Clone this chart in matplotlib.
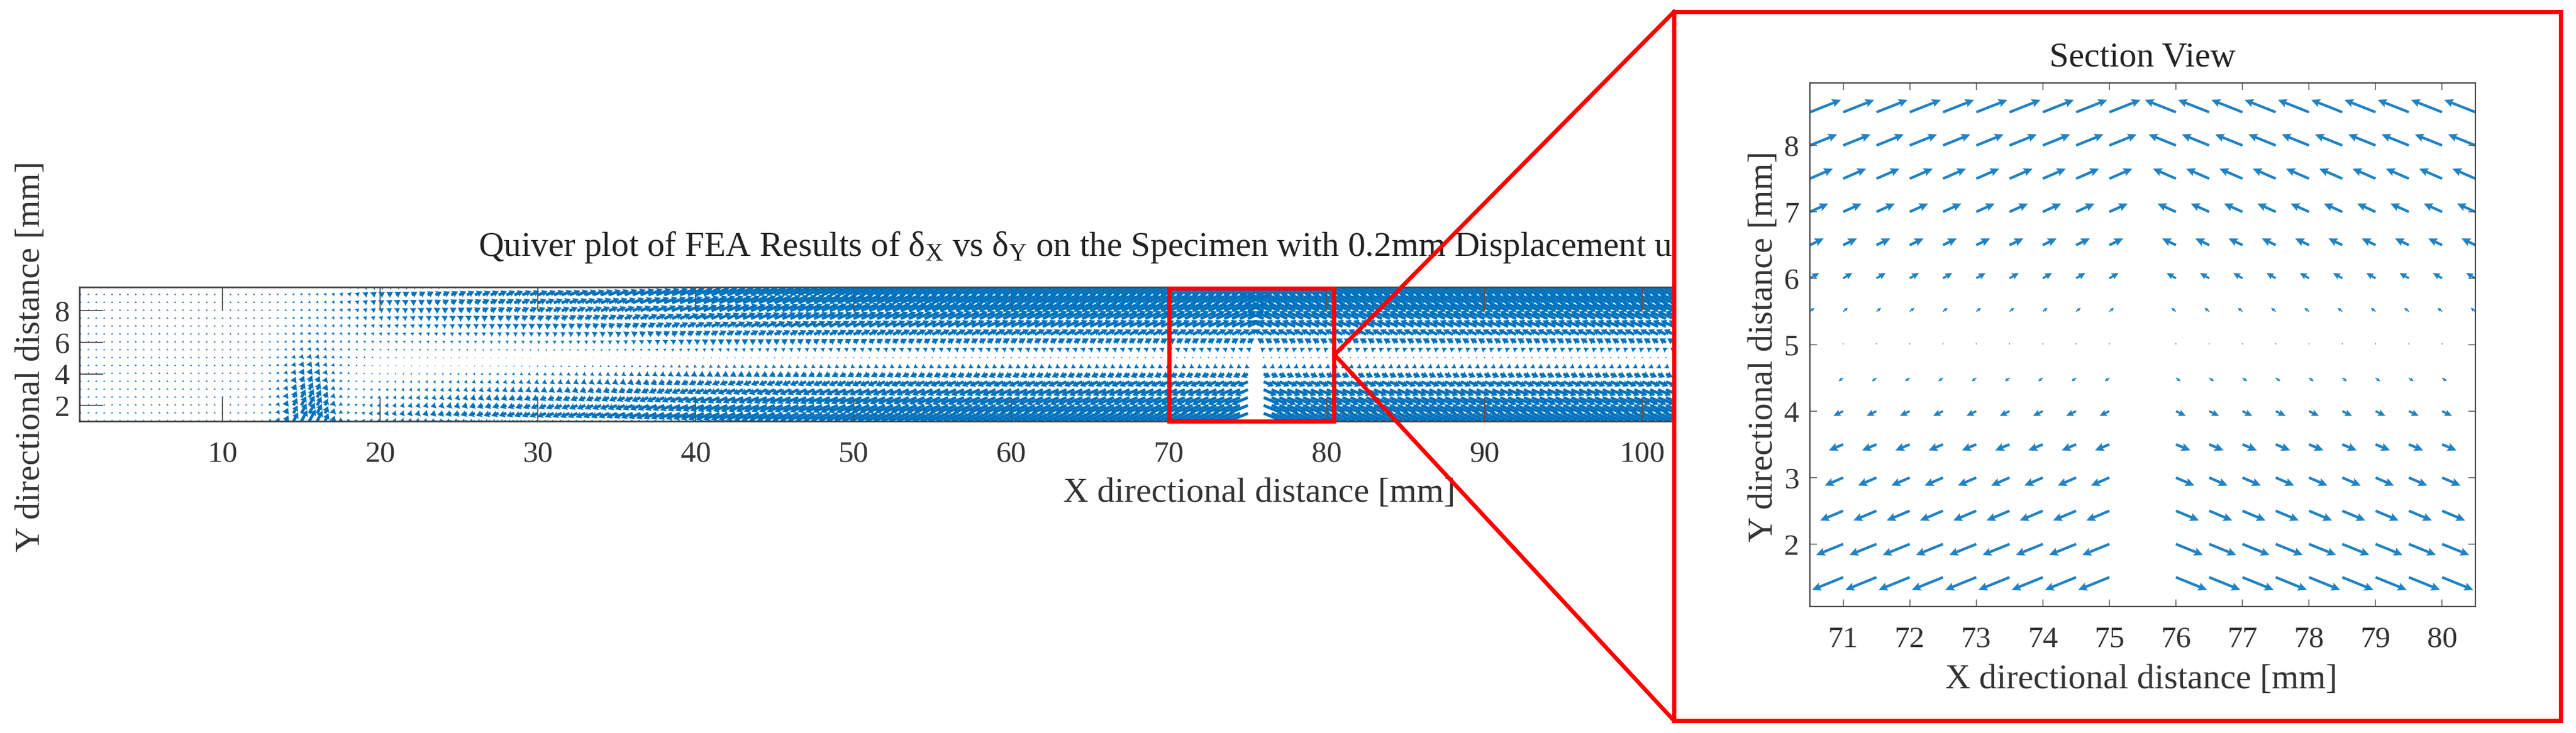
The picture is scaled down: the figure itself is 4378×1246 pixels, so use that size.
import numpy as np
import matplotlib
matplotlib.use("Agg")
import matplotlib.pyplot as plt
from matplotlib.patches import Rectangle

W, H = 4378, 1246
DPI = 100

# grid of the FEA result, mm
x_cols = np.arange(1, 104.5, 0.5)
y_rows = np.arange(1, 10, 0.5)

# displacement per row far from the load point (y = 1 ... 9.5), read from the section view
row_du = [-.535, -.468, -.407, -.346, -.277, -.216, -.147, -.07, 0,
          .07, .139, .208, .277, .345, .41, .467, .535, .6]
row_dv = [-.21, -.19, -.165, -.145, -.12, -.09, -.07, -.05, .03,
          .055, .08, .1, .125, .15, .165, .185, .21, .23]

# how far the far field has developed along x (x = 1 ... 59.5), full after that
col_ramp = [0] * 24 + [
    0, 0, 0, .005, .01, .015, .025, .04, .06, .08, .1, .12, .15, .17,
    .18, .19, .2, .21, .22, .23, .24, .25, .26, .27, .28, .29, .3, .31, .32,
    .33, .34, .35, .36, .37, .38, .39, .4, .41, .42, .43, .44, .45, .46, .47,
    .48, .5, .52, .54, .56, .58, .6, .62, .64, .66, .68, .7, .72,
    .73, .74, .75, .76, .77, .78, .79, .8, .81, .82, .83, .84, .85, .86, .87,
    .88, .89, .9, .91, .92, .92, .93, .93, .94, .94, .95, .95, .96, .96, .97,
    .97, .98, .98, .99, .99, 1, 1,
] + [1.0] * 89

# small upward drift on the left part (x = 1 ... 29.5)
col_base_dv = [.035] * 34 + [
    .035, .03, .03, .03, .025, .025, .025, .02, .02, .02, .02, .015,
    .015, .015, .015, .015, .01, .01, .01, .01, .01, .005, .005, .005,
] + [0.0] * 149

# support at x ~ 15.5
bump_x = [13, 13.5, 14, 14.5, 15, 15.5, 16, 16.5, 17, 17.5, 18, 18.5, 19]
bump_col = [.1, .22, .42, .7, .92, 1, .88, .66, .44, .28, .18, .12, .07]
bump_row = [.26, .23, .21, .18, .15, .12, .1, .08, .06, .04, .03, .025, .02, .016, .013, .01, .008, .006]

main_xticks = list(range(10, 150, 10))
main_yticks = [2, 4, 6, 8]
sec_xticks = list(range(71, 81))
sec_yticks = [2, 3, 4, 5, 6, 7, 8]

title_main = r"Quiver plot of FEA Results of $\mathregular{\delta_X}$ vs $\mathregular{\delta_Y}$ on the Specimen with 0.2mm Displacement u"
xlabel = "X directional distance [mm]"
ylabel = "Y directional distance [mm]"

BLUE = "#0072BD"
RED = "#FF0000"
GREY = "#555555"

plt.rcParams["font.family"] = "Liberation Serif"
plt.rcParams["mathtext.fontset"] = "custom"
plt.rcParams["mathtext.rm"] = "Liberation Serif"
plt.rcParams["mathtext.it"] = "Liberation Serif:italic"
plt.rcParams["mathtext.fallback"] = "stix"


def fx(px):
    return px / W


def fy(py):
    return 1 - py / H


def axes_px(left, top, right, bottom, **kw):
    return fig.add_axes([fx(left), fy(bottom), (right - left) / W, (bottom - top) / H], **kw)


# build the field
X, Y = np.meshgrid(x_cols, y_rows)
ramp = np.array(col_ramp)[None, :]
side = np.where(x_cols < 75.5, 1.0, -1.0)[None, :]
bump = np.zeros(len(x_cols))
bump[np.isin(x_cols, bump_x)] = bump_col
bump = bump[None, :] * np.array(bump_row)[:, None]
U = ramp * side * np.array(row_du)[:, None] + 0.55 * bump
V = ramp * np.array(row_dv)[:, None] + np.array(col_base_dv)[None, :] + 0.83 * bump
keep = x_cols != 75.5
X, Y, U, V = X[:, keep], Y[:, keep], U[:, keep], V[:, keep]

fig = plt.figure(figsize=(W / DPI, H / DPI), dpi=DPI, facecolor="white")

# main plot, runs on behind the section view. quiver autoscale here is 3x the section view
ax = axes_px(135, 488, 4145, 716, zorder=1)
ax.quiver(X, Y, U, V, angles="xy", scale_units="xy", scale=1 / 3, units="dots", width=5,
          headwidth=2.4, headlength=2, headaxislength=1.8, minshaft=0.9, minlength=0,
          color=BLUE, linewidth=0)
ax.set_xlim(0.93, 150.5)
ax.set_ylim(1, 9.5)
ax.set_xticks(main_xticks)
ax.set_yticks(main_yticks)
ax.tick_params(axis="both", direction="in", length=28.8, width=1.4, color=GREY,
               labelcolor="#333333", labelsize=37, top=True, right=True)
ax.tick_params(axis="x", pad=24)
ax.tick_params(axis="y", pad=12)
for s in ax.spines.values():
    s.set_linewidth(2)
    s.set_color("#444444")
ax.set_xlabel(xlabel, fontsize=42.7, color="#333333", va="baseline")
ax.xaxis.set_label_coords(fx(2140), fy(853), transform=fig.transFigure)
ax.set_ylabel(ylabel, fontsize=42.7, color="#333333", va="baseline")
ax.yaxis.set_label_coords(fx(67), fy(606), transform=fig.transFigure)
ax.text(fx(813), fy(435), title_main, transform=fig.transFigure, fontsize=42.7,
        color="#222222", ha="left", va="baseline", clip_on=False)

# red callout, in pixel coordinates of the page
ov = fig.add_axes([0, 0, 1, 1], zorder=5)
ov.set_xlim(0, W)
ov.set_ylim(H, 0)
ov.axis("off")
ov.patch.set_alpha(0)
lw_red = 7 * 72 / DPI
ov.add_patch(Rectangle((1987, 490), 280, 226, fill=False, ec=RED, lw=lw_red, joinstyle="miter"))
ov.plot([2845, 2268, 2845], [20, 603, 1225], color=RED, lw=lw_red, solid_joinstyle="miter")
ov.add_patch(Rectangle((2845, 20), 4352 - 2845, 1225 - 20, fc="white", ec=RED, lw=lw_red,
                       joinstyle="miter", zorder=3))

# section view
sec = axes_px(3076, 141, 4207, 1031, zorder=6)
sec.quiver(X, Y, U, V, angles="xy", scale_units="xy", scale=1, units="dots", width=4.5,
           headwidth=3.2, headlength=3.4, headaxislength=3, minshaft=1.5, minlength=0,
           color="#1F82C4", linewidth=0)
sec.set_xlim(70.5, 80.5)
sec.set_ylim(1.06, 8.94)
sec.set_xticks(sec_xticks)
sec.set_yticks(sec_yticks)
sec.tick_params(axis="both", direction="in", length=8.6, width=1.1, color=GREY,
                labelcolor="#333333", labelsize=37, top=True, right=True)
sec.tick_params(axis="x", pad=24)
sec.tick_params(axis="y", pad=13)
for s in sec.spines.values():
    s.set_linewidth(1.6)
    s.set_color("#444444")
sec.set_xlabel(xlabel, fontsize=42.7, color="#333333", va="baseline")
sec.xaxis.set_label_coords(fx(3639), fy(1170), transform=fig.transFigure)
sec.set_ylabel(ylabel, fontsize=42.7, color="#333333", va="baseline")
sec.yaxis.set_label_coords(fx(3012), fy(589), transform=fig.transFigure)
sec.text(fx(3641), fy(113), "Section View", transform=fig.transFigure, fontsize=42.7,
         color="#222222", ha="center", va="baseline")

fig.savefig("out.png", dpi=DPI, facecolor="white")
